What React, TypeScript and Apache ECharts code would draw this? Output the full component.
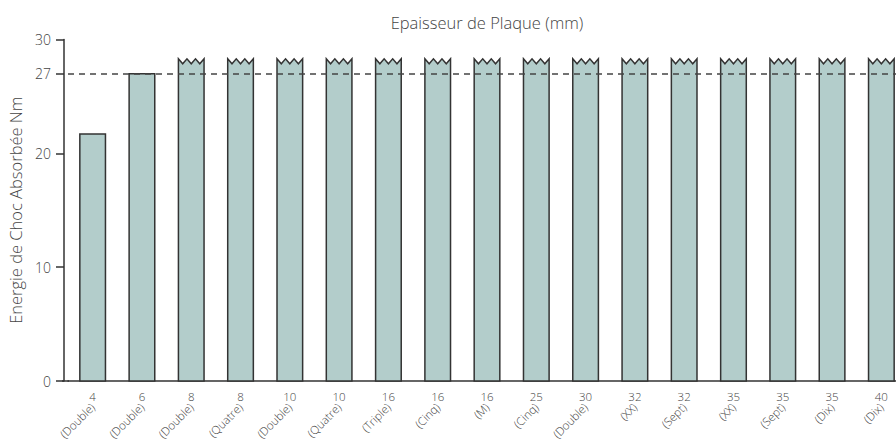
import React, { useEffect, useRef } from "react";
import * as echarts from "echarts";

const thickness = ["4", "6", "8", "8", "10", "10", "16", "16", "16", "25", "30", "32", "32", "35", "35", "35", "40"];
const plateType = ["(Double)", "(Double)", "(Double)", "(Quatre)", "(Double)", "(Quatre)", "(Triple)", "(Cinq)", "(M)", "(Cinq)", "(Double)", "(XX)", "(Sept)", "(XX)", "(Sept)", "(Dix)", "(Dix)"];
const energy = [21.7, 27, 28.3, 28.3, 28.3, 28.3, 28.3, 28.3, 28.3, 28.3, 28.3, 28.3, 28.3, 28.3, 28.3, 28.3, 28.3];
const offScale = [0, 0, 1, 1, 1, 1, 1, 1, 1, 1, 1, 1, 1, 1, 1, 1, 1];
const yTicks = [0, 10, 20, 27, 30];
const threshold = 27;

const FONT = "'Open Sans', Lato, sans-serif";

export default function App() {
  const ref = useRef<HTMLDivElement>(null);
  useEffect(() => {
    const chart = echarts.init(ref.current!, null, { renderer: "svg" });
    const data = energy.map((v, i) => [i, v, offScale[i]]);
    chart.setOption({
      animation: false,
      textStyle: { fontFamily: FONT },
      title: {
        text: "Epaisseur de Plaque (mm)",
        left: 482,
        top: 9,
        textAlign: "center",
        textStyle: { fontFamily: FONT, fontSize: 16.5, fontWeight: 300, color: "#444" },
      },
      grid: { left: 68, right: -10, top: 39.5, bottom: 63, outerBoundsMode: "none", containLabel: false },
      xAxis: [
        {
          type: "category",
          data: thickness,
          axisLine: { lineStyle: { color: "#333", width: 1.5 } },
          axisTick: { show: false },
          axisLabel: { fontSize: 11.5, color: "#444", margin: 9, fontFamily: FONT, fontWeight: 300 },
        },
        {
          type: "category",
          data: plateType,
          position: "bottom",
          offset: 20,
          axisLine: { show: false },
          axisTick: { show: false },
          axisLabel: { fontSize: 11.5, color: "#444", rotate: 45, margin: 4, fontFamily: FONT, fontWeight: 300 },
        },
      ],
      yAxis: {
        type: "value",
        min: 0,
        max: 30,
        offset: 4,
        name: "Energie de Choc Absorbée Nm",
        nameLocation: "middle",
        nameGap: 40,
        nameTextStyle: { fontSize: 16.5, color: "#444", fontFamily: FONT, fontWeight: 300 },
        splitLine: { show: false },
        axisLine: { show: true, lineStyle: { color: "#333", width: 1.5 } },
        axisTick: { show: true, length: 8, customValues: yTicks, lineStyle: { color: "#333", width: 1.5 } },
        axisLabel: { customValues: yTicks, fontSize: 14, color: "#444", margin: 13, fontFamily: FONT, fontWeight: 300 },
      },
      graphic: [
        { type: "line", shape: { x1: 62, y1: 381, x2: 69, y2: 381 }, style: { stroke: "#333", lineWidth: 1.5 } },
      ],
      series: [
        {
          type: "custom",
          xAxisIndex: 0,
          data,
          renderItem: (params: any, api: any) => {
            const i = api.value(0);
            const v = api.value(1);
            const broken = api.value(2);
            const base = api.coord([i, 0]);
            const top = api.coord([i, v]);
            const w = api.size([1, 0])[0] * 0.52;
            const x0 = top[0] - w / 2;
            const x1 = top[0] + w / 2;
            const pts: number[][] = [[x0, base[1]]];
            if (broken) {
              const amp = 5;
              for (let k = 0; k <= 6; k++) {
                pts.push([x0 + (w * k) / 6, top[1] + (k % 2 === 1 ? amp : 0)]);
              }
            } else {
              pts.push([x0, top[1]]);
              pts.push([x1, top[1]]);
            }
            pts.push([x1, base[1]]);
            return {
              type: "polygon",
              shape: { points: pts },
              style: { fill: "#b3cdcb", stroke: "#333", lineWidth: 1.5 },
            };
          },
          markLine: {
            silent: true,
            symbol: "none",
            label: { show: false },
            lineStyle: { type: [6, 5], color: "#444", width: 1.5 },
            data: [{ yAxis: threshold }],
          },
          z: 2,
        },
      ],
    });
    return () => chart.dispose();
  }, []);
  return <div ref={ref} style={{ width: 896, height: 444, position: "absolute", left: 0, top: 0 }} />;
}
